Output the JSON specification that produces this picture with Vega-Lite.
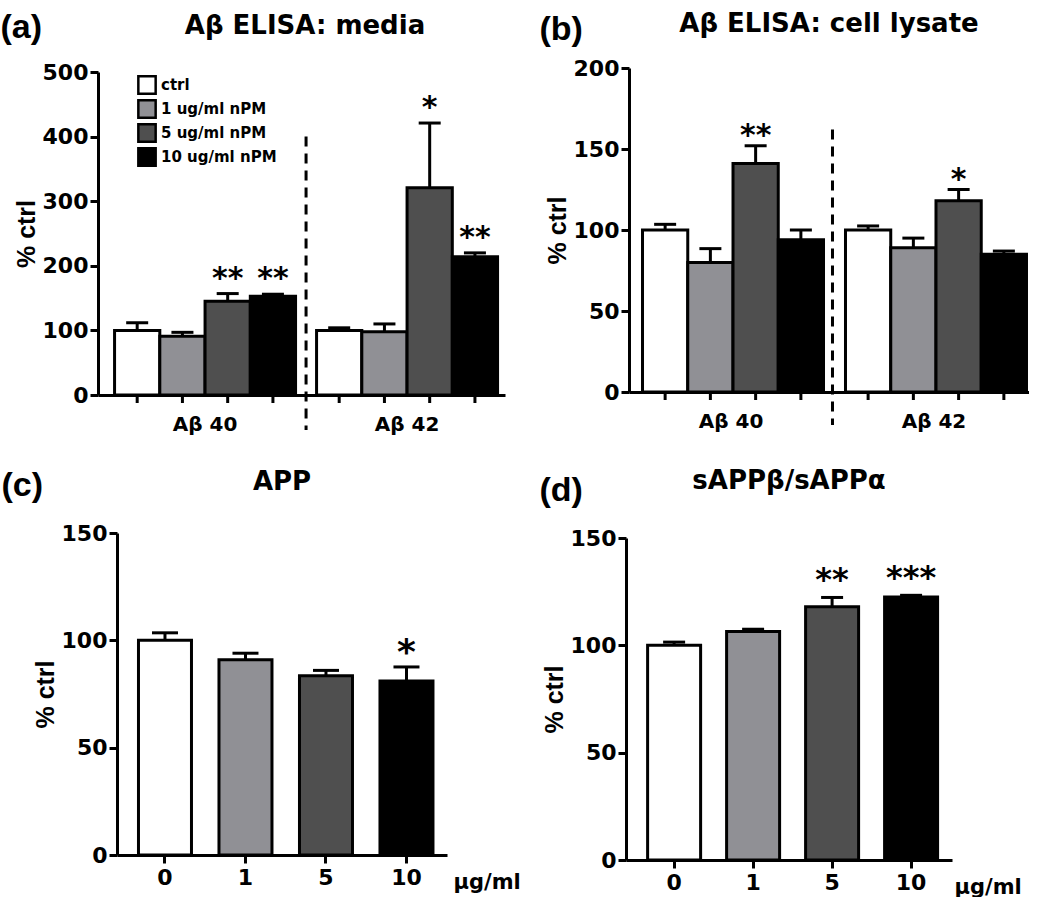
{
  "$schema": "https://vega.github.io/schema/vega-lite/v6.json",
  "padding": {"left": 0, "top": 10, "right": 0, "bottom": 0},
  "background": "white",
  "config": {
    "view": {"stroke": null},
    "axis": {"domainColor": "#000", "domainWidth": 3, "tickColor": "#000", "tickWidth": 3, "tickSize": 8, "labelColor": "#000", "labelFont": "DejaVu Sans", "labelFontWeight": "bold", "labelFontSize": 22, "labelPadding": 2, "titleColor": "#000", "titleFont": "Liberation Sans", "titleFontWeight": "bold", "titleFontSize": 25, "titlePadding": 3, "grid": false},
    "title": {"color": "#000", "font": "DejaVu Sans", "fontWeight": "bold", "fontSize": 26}
  },
  "resolve": {"scale": {"fill": "independent"}, "legend": {"fill": "independent"}},
  "columns": 2,
  "align": "none",
  "spacing": {"row": 34, "column": 15},
  "concat": [
    {
      "title": {"text": "Aβ ELISA: media", "offset": -29, "dx": -6},
      "width": 388,
      "height": 323,
      "data": {"values": [
        {"assay": "Aβ 40", "dose": "ctrl", "mean": 100, "upper": 112, "sig": ""},
        {"assay": "Aβ 40", "dose": "1 ug/ml nPM", "mean": 91, "upper": 97, "sig": ""},
        {"assay": "Aβ 40", "dose": "5 ug/ml nPM", "mean": 145, "upper": 157, "sig": "**"},
        {"assay": "Aβ 40", "dose": "10 ug/ml nPM", "mean": 153, "upper": 156, "sig": "**"},
        {"assay": "Aβ 42", "dose": "ctrl", "mean": 100, "upper": 104, "sig": ""},
        {"assay": "Aβ 42", "dose": "1 ug/ml nPM", "mean": 98, "upper": 110, "sig": ""},
        {"assay": "Aβ 42", "dose": "5 ug/ml nPM", "mean": 321, "upper": 421, "sig": "*"},
        {"assay": "Aβ 42", "dose": "10 ug/ml nPM", "mean": 214, "upper": 220, "sig": "**"}
      ]},
      "resolve": {"axis": {"x": "independent"}},
      "encoding": {
        "y": {"field": "mean", "type": "quantitative", "scale": {"domain": [0, 500], "nice": false}, "axis": {"title": "% ctrl", "values": [0, 100, 200, 300, 400, 500], "offset": 19}}
      },
      "layer": [
        {
          "mark": {"type": "rule", "strokeWidth": 3, "color": "#000", "y2Offset": 8},
          "encoding": {
            "x": {"field": "assay", "type": "nominal", "sort": ["Aβ 40", "Aβ 42"], "scale": {"range": [-19, 388], "paddingInner": 0.104, "paddingOuter": 0.0594, "align": 0.69}, "axis": {"title": null, "ticks": false, "labelAngle": 0, "labelPadding": 19, "labelFontSize": 20}},
            "xOffset": {"field": "dose", "type": "nominal", "sort": ["ctrl", "1 ug/ml nPM", "5 ug/ml nPM", "10 ug/ml nPM"], "scale": {"paddingInner": 0, "paddingOuter": 0}},
            "y": {"datum": 0},
            "y2": {"datum": 0}
          }
        },
        {
          "mark": {"type": "rule", "strokeWidth": 3, "color": "#000"},
          "encoding": {
            "x": {"field": "assay", "type": "nominal", "sort": ["Aβ 40", "Aβ 42"], "axis": {"orient": "top", "title": "(a)", "labels": false, "ticks": false, "domain": false, "titleX": -117, "titleY": -35, "titleAngle": 0, "titleAlign": "left", "titleBaseline": "alphabetic", "titleFont": "Liberation Sans", "titleFontSize": 34, "titleFontWeight": "bold", "titlePadding": 0}},
            "xOffset": {"field": "dose", "type": "nominal", "sort": ["ctrl", "1 ug/ml nPM", "5 ug/ml nPM", "10 ug/ml nPM"], "scale": {"paddingInner": 0, "paddingOuter": 0}},
            "y2": {"field": "upper"}
          }
        },
        {
          "mark": {"type": "tick", "thickness": 3, "size": 22, "color": "#000", "opacity": 1},
          "encoding": {
            "x": {"field": "assay", "type": "nominal", "sort": ["Aβ 40", "Aβ 42"], "axis": null},
            "xOffset": {"field": "dose", "type": "nominal", "sort": ["ctrl", "1 ug/ml nPM", "5 ug/ml nPM", "10 ug/ml nPM"], "scale": {"paddingInner": 0, "paddingOuter": 0}},
            "y": {"field": "upper", "type": "quantitative"}
          }
        },
        {
          "mark": {"type": "bar", "stroke": "#000", "strokeWidth": 3, "opacity": 1},
          "encoding": {
            "x": {"field": "assay", "type": "nominal", "sort": ["Aβ 40", "Aβ 42"], "axis": null},
            "xOffset": {"field": "dose", "type": "nominal", "sort": ["ctrl", "1 ug/ml nPM", "5 ug/ml nPM", "10 ug/ml nPM"], "scale": {"paddingInner": 0, "paddingOuter": 0}},
            "fill": {"field": "dose", "type": "nominal", "sort": ["ctrl", "1 ug/ml nPM", "5 ug/ml nPM", "10 ug/ml nPM"], "scale": {"domain": ["ctrl", "1 ug/ml nPM", "5 ug/ml nPM", "10 ug/ml nPM"], "range": ["#ffffff", "#909095", "#4f4f4f", "#000000"]},
              "legend": {"title": null, "orient": "none", "legendX": 20, "legendY": 3, "symbolType": "square", "symbolSize": 300, "symbolStrokeColor": "#000", "symbolStrokeWidth": 2.5, "symbolOpacity": 1, "labelFont": "DejaVu Sans", "labelFontWeight": "bold", "labelFontSize": 15, "labelColor": "#000", "rowPadding": 4, "clipHeight": 20, "labelOffset": 4, "padding": 0}}
          }
        },
        {
          "mark": {"type": "text", "font": "DejaVu Sans", "fontWeight": "bold", "fontSize": 30, "dy": -6, "baseline": "alphabetic", "color": "#000"},
          "encoding": {
            "x": {"field": "assay", "type": "nominal", "sort": ["Aβ 40", "Aβ 42"], "axis": null},
            "xOffset": {"field": "dose", "type": "nominal", "sort": ["ctrl", "1 ug/ml nPM", "5 ug/ml nPM", "10 ug/ml nPM"], "scale": {"paddingInner": 0, "paddingOuter": 0}},
            "y": {"field": "upper", "type": "quantitative"},
            "text": {"field": "sig"}
          }
        },
        {
          "transform": [{"filter": {"and": [{"field": "assay", "equal": "Aβ 42"}, {"field": "dose", "equal": "ctrl"}]}}],
          "mark": {"type": "rule", "strokeWidth": 3, "strokeDash": [10, 7], "color": "#000", "xOffset": -101, "y2Offset": 35},
          "encoding": {
            "x": {"field": "assay", "type": "nominal", "sort": ["Aβ 40", "Aβ 42"], "axis": null},
            "y": {"datum": 400},
            "y2": {"datum": 0}
          }
        }
      ]
    },
    {
      "title": {"text": "Aβ ELISA: cell lysate", "offset": -25},
      "width": 400,
      "height": 320,
      "data": {"values": [
        {"assay": "Aβ 40", "dose": "ctrl", "mean": 100, "upper": 103.5, "sig": ""},
        {"assay": "Aβ 40", "dose": "1 ug/ml nPM", "mean": 80, "upper": 88.5, "sig": ""},
        {"assay": "Aβ 40", "dose": "5 ug/ml nPM", "mean": 141, "upper": 152, "sig": "**"},
        {"assay": "Aβ 40", "dose": "10 ug/ml nPM", "mean": 94, "upper": 100, "sig": ""},
        {"assay": "Aβ 42", "dose": "ctrl", "mean": 100, "upper": 102.5, "sig": ""},
        {"assay": "Aβ 42", "dose": "1 ug/ml nPM", "mean": 89, "upper": 95, "sig": ""},
        {"assay": "Aβ 42", "dose": "5 ug/ml nPM", "mean": 118, "upper": 125, "sig": "*"},
        {"assay": "Aβ 42", "dose": "10 ug/ml nPM", "mean": 85, "upper": 87, "sig": ""}
      ]},
      "resolve": {"axis": {"x": "independent"}},
      "encoding": {
        "y": {"field": "mean", "type": "quantitative", "scale": {"domain": [0, 200], "nice": false, "range": [320, -4]}, "axis": {"title": "% ctrl", "values": [0, 50, 100, 150, 200]}}
      },
      "layer": [
        {
          "mark": {"type": "rule", "strokeWidth": 3, "color": "#000", "y2Offset": 8},
          "encoding": {
            "x": {"field": "assay", "type": "nominal", "sort": ["Aβ 40", "Aβ 42"], "scale": {"paddingInner": 0.128, "paddingOuter": 0.0493, "align": 0.675}, "axis": {"title": null, "ticks": false, "labelAngle": 0, "labelPadding": 19, "labelFontSize": 20}},
            "xOffset": {"field": "dose", "type": "nominal", "sort": ["ctrl", "1 ug/ml nPM", "5 ug/ml nPM", "10 ug/ml nPM"], "scale": {"paddingInner": 0, "paddingOuter": 0}},
            "y": {"datum": 0},
            "y2": {"datum": 0}
          }
        },
        {
          "mark": {"type": "rule", "strokeWidth": 3, "color": "#000"},
          "encoding": {
            "x": {"field": "assay", "type": "nominal", "sort": ["Aβ 40", "Aβ 42"], "axis": {"orient": "top", "title": "(b)", "labels": false, "ticks": false, "domain": false, "titleX": -90, "titleY": -33, "titleAngle": 0, "titleAlign": "left", "titleBaseline": "alphabetic", "titleFont": "Liberation Sans", "titleFontSize": 34, "titleFontWeight": "bold", "titlePadding": 0}},
            "xOffset": {"field": "dose", "type": "nominal", "sort": ["ctrl", "1 ug/ml nPM", "5 ug/ml nPM", "10 ug/ml nPM"], "scale": {"paddingInner": 0, "paddingOuter": 0}},
            "y2": {"field": "upper"}
          }
        },
        {
          "mark": {"type": "tick", "thickness": 3, "size": 22, "color": "#000", "opacity": 1},
          "encoding": {
            "x": {"field": "assay", "type": "nominal", "sort": ["Aβ 40", "Aβ 42"], "axis": null},
            "xOffset": {"field": "dose", "type": "nominal", "sort": ["ctrl", "1 ug/ml nPM", "5 ug/ml nPM", "10 ug/ml nPM"], "scale": {"paddingInner": 0, "paddingOuter": 0}},
            "y": {"field": "upper", "type": "quantitative"}
          }
        },
        {
          "mark": {"type": "bar", "stroke": "#000", "strokeWidth": 3, "opacity": 1},
          "encoding": {
            "x": {"field": "assay", "type": "nominal", "sort": ["Aβ 40", "Aβ 42"], "axis": null},
            "xOffset": {"field": "dose", "type": "nominal", "sort": ["ctrl", "1 ug/ml nPM", "5 ug/ml nPM", "10 ug/ml nPM"], "scale": {"paddingInner": 0, "paddingOuter": 0}},
            "fill": {"field": "dose", "type": "nominal", "scale": {"domain": ["ctrl", "1 ug/ml nPM", "5 ug/ml nPM", "10 ug/ml nPM"], "range": ["#ffffff", "#909095", "#4f4f4f", "#000000"]}, "legend": null}
          }
        },
        {
          "mark": {"type": "text", "font": "DejaVu Sans", "fontWeight": "bold", "fontSize": 30, "dy": -1, "baseline": "alphabetic", "color": "#000"},
          "encoding": {
            "x": {"field": "assay", "type": "nominal", "sort": ["Aβ 40", "Aβ 42"], "axis": null},
            "xOffset": {"field": "dose", "type": "nominal", "sort": ["ctrl", "1 ug/ml nPM", "5 ug/ml nPM", "10 ug/ml nPM"], "scale": {"paddingInner": 0, "paddingOuter": 0}},
            "y": {"field": "upper", "type": "quantitative"},
            "text": {"field": "sig"}
          }
        },
        {
          "transform": [{"filter": {"and": [{"field": "assay", "equal": "Aβ 42"}, {"field": "dose", "equal": "ctrl"}]}}],
          "mark": {"type": "rule", "strokeWidth": 3, "strokeDash": [10, 7], "color": "#000", "xOffset": -101.5, "y2Offset": 33},
          "encoding": {
            "x": {"field": "assay", "type": "nominal", "sort": ["Aβ 40", "Aβ 42"], "axis": null},
            "y": {"datum": 162},
            "y2": {"datum": 0}
          }
        }
      ]
    },
    {
      "title": {"text": "APP", "offset": -27},
      "width": 330,
      "height": 322,
      "data": {"values": [
        {"conc": "0", "mean": 100, "upper": 103.5, "sig": ""},
        {"conc": "1", "mean": 91, "upper": 94, "sig": ""},
        {"conc": "5", "mean": 83.5, "upper": 86, "sig": ""},
        {"conc": "10", "mean": 81, "upper": 87.6, "sig": "*"}
      ]},
      "resolve": {"axis": {"x": "independent"}},
      "encoding": {
        "y": {"field": "mean", "type": "quantitative", "scale": {"domain": [0, 150], "nice": false}, "axis": {"title": "% ctrl", "values": [0, 50, 100, 150]}}
      },
      "layer": [
        {
          "mark": {"type": "rule", "strokeWidth": 3, "color": "#000"},
          "encoding": {
            "x": {"field": "conc", "type": "nominal", "sort": ["0", "1", "5", "10"], "axis": {"orient": "top", "title": "(c)", "labels": false, "ticks": false, "domain": false, "titleX": -116, "titleY": -38, "titleAngle": 0, "titleAlign": "left", "titleBaseline": "alphabetic", "titleFont": "Liberation Sans", "titleFontSize": 34, "titleFontWeight": "bold", "titlePadding": 0}},
            "y2": {"field": "upper"}
          }
        },
        {
          "mark": {"type": "tick", "thickness": 3, "size": 26, "color": "#000", "opacity": 1},
          "encoding": {
            "x": {"field": "conc", "type": "nominal", "sort": ["0", "1", "5", "10"], "axis": null},
            "y": {"field": "upper", "type": "quantitative"}
          }
        },
        {
          "mark": {"type": "bar", "stroke": "#000", "strokeWidth": 3, "opacity": 1},
          "encoding": {
            "x": {"field": "conc", "type": "nominal", "sort": ["0", "1", "5", "10"], "scale": {"paddingInner": 0.3416, "paddingOuter": 0.2205, "align": 0.605}, "axis": {"title": "μg/ml", "labelAngle": 0, "labelPadding": 4, "titleX": 336, "titleY": 33, "titleAlign": "left", "titleBaseline": "alphabetic", "titleFont": "DejaVu Sans", "titleFontSize": 21}},
            "fill": {"field": "conc", "type": "nominal", "scale": {"domain": ["0", "1", "5", "10"], "range": ["#ffffff", "#909095", "#4f4f4f", "#000000"]}, "legend": null}
          }
        },
        {
          "mark": {"type": "text", "font": "DejaVu Sans", "fontWeight": "bold", "fontSize": 36, "dy": -3, "baseline": "alphabetic", "color": "#000"},
          "encoding": {
            "x": {"field": "conc", "type": "nominal", "sort": ["0", "1", "5", "10"], "axis": null},
            "y": {"field": "upper", "type": "quantitative"},
            "text": {"field": "sig"}
          }
        }
      ]
    },
    {
      "title": {"text": "sAPPβ/sAPPα", "offset": -21},
      "width": 326,
      "height": 322,
      "data": {"values": [
        {"conc": "0", "mean": 100, "upper": 101.5, "sig": ""},
        {"conc": "1", "mean": 106.5, "upper": 107.5, "sig": ""},
        {"conc": "5", "mean": 118, "upper": 122.3, "sig": "**"},
        {"conc": "10", "mean": 122.5, "upper": 123.3, "sig": "***"}
      ]},
      "resolve": {"axis": {"x": "independent"}},
      "encoding": {
        "y": {"field": "mean", "type": "quantitative", "scale": {"domain": [0, 150], "nice": false}, "axis": {"title": "% ctrl", "values": [0, 50, 100, 150]}}
      },
      "layer": [
        {
          "mark": {"type": "rule", "strokeWidth": 3, "color": "#000"},
          "encoding": {
            "x": {"field": "conc", "type": "nominal", "sort": ["0", "1", "5", "10"], "axis": {"orient": "top", "title": "(d)", "labels": false, "ticks": false, "domain": false, "titleX": -87, "titleY": -38, "titleAngle": 0, "titleAlign": "left", "titleBaseline": "alphabetic", "titleFont": "Liberation Sans", "titleFontSize": 34, "titleFontWeight": "bold", "titlePadding": 0}},
            "y2": {"field": "upper"}
          }
        },
        {
          "mark": {"type": "tick", "thickness": 3, "size": 22, "color": "#000", "opacity": 1},
          "encoding": {
            "x": {"field": "conc", "type": "nominal", "sort": ["0", "1", "5", "10"], "axis": null},
            "y": {"field": "upper", "type": "quantitative"}
          }
        },
        {
          "mark": {"type": "bar", "stroke": "#000", "strokeWidth": 3, "opacity": 1},
          "encoding": {
            "x": {"field": "conc", "type": "nominal", "sort": ["0", "1", "5", "10"], "scale": {"paddingInner": 0.329, "paddingOuter": 0.228, "align": 0.6}, "axis": {"title": "μg/ml", "labelAngle": 0, "labelPadding": 4, "titleX": 328, "titleY": 33, "titleAlign": "left", "titleBaseline": "alphabetic", "titleFont": "DejaVu Sans", "titleFontSize": 21}},
            "fill": {"field": "conc", "type": "nominal", "scale": {"domain": ["0", "1", "5", "10"], "range": ["#ffffff", "#909095", "#4f4f4f", "#000000"]}, "legend": null}
          }
        },
        {
          "mark": {"type": "text", "font": "DejaVu Sans", "fontWeight": "bold", "fontSize": 32, "dy": -7, "baseline": "alphabetic", "color": "#000"},
          "encoding": {
            "x": {"field": "conc", "type": "nominal", "sort": ["0", "1", "5", "10"], "axis": null},
            "y": {"field": "upper", "type": "quantitative"},
            "text": {"field": "sig"}
          }
        }
      ]
    }
  ]
}
